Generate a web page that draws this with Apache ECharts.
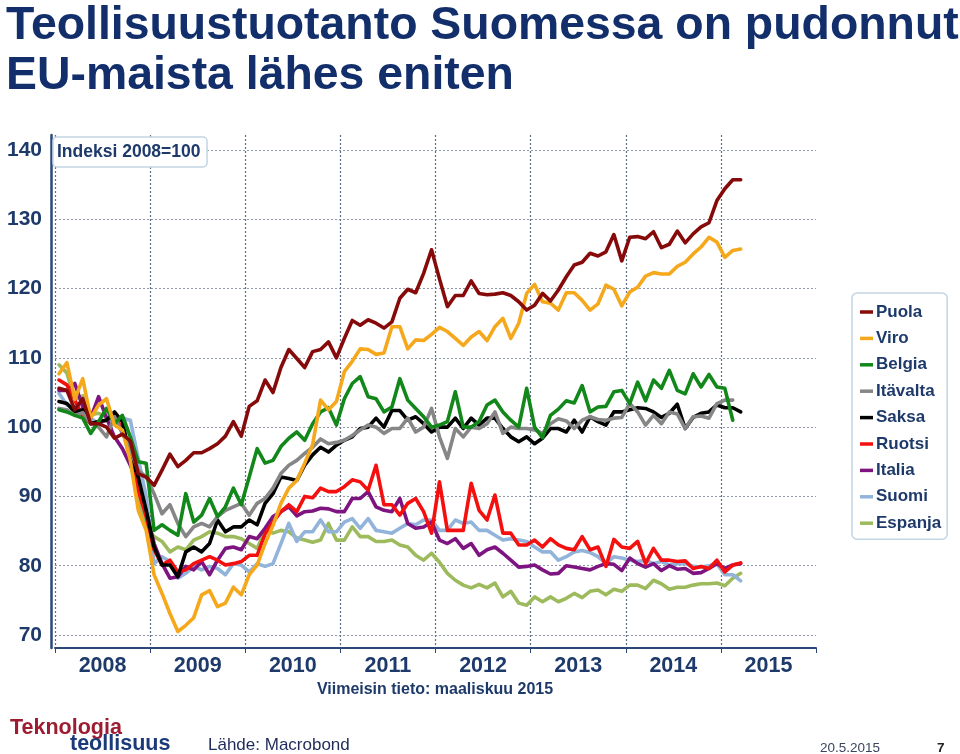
<!DOCTYPE html>
<html>
<head>
<meta charset="utf-8">
<script src="https://cdn.jsdelivr.net/npm/echarts@6/dist/echarts.min.js"></script>
<style>html,body{margin:0;padding:0;background:#fff}#c{width:960px;height:754px}</style>
</head>
<body>
<div id="c"></div>
<script>
// ---- data (monthly index, 2008 = 100), Jan 2008 ... Mar 2015 ----
const years = ['2008', '2009', '2010', '2011', '2012', '2013', '2014', '2015'];
const yTicks = [70, 80, 90, 100, 110, 120, 130, 140];

const puola = [
  105.6, 105.3, 102.5, 104.1, 100.5, 100.5, 100, 98.4, 99, 98, 93.3, 92.8,
  91.6, 93.8, 96.1, 94.3, 95.2, 96.3, 96.3, 96.9, 97.6, 98.7, 100.8, 98.7,
  103, 103.8, 106.8, 105, 108.6, 111.2, 109.9, 108.6, 110.9, 111.2, 112.3, 110,
  112.8, 115.4, 114.7, 115.5, 115, 114.3, 115.2, 118.6, 119.9, 119.4, 122.2, 125.6,
  121.4, 117.4, 119, 119, 121.1, 119.3, 119.1, 119.2, 119.4, 119, 118.1, 116.9,
  117.6, 119.3, 118.2, 119.8, 121.7, 123.4, 123.8, 125.1, 124.7, 125.3, 127.8, 124,
  127.4, 127.5, 127.2, 128.2, 125.9, 126.4, 128.3, 126.6, 127.9, 128.9, 129.5, 132.7,
  134.4, 135.7, 135.7
];
const viro = [
  107.7, 109.3, 104, 107, 101.3, 103.2, 104.1, 100.3, 99.6, 95.2, 88, 85.1,
  78.7, 76, 73.1, 70.5, 71.4, 72.5, 75.8, 76.4, 74.1, 74.6, 76.9, 75.8,
  78.7, 80.1, 83.2, 85.8, 89, 91.2, 92.3, 94.8, 97.5, 103.9, 102.5, 103.7,
  108, 109.5, 111.3, 111.2, 110.5, 110.7, 114.5, 114.5, 111.3, 112.6, 112.5, 113.4,
  114.4, 113.8, 112.8, 111.8, 113, 113.8, 112.5, 114.5, 115.7, 112.8, 115, 119.3,
  120.6, 118.1, 117.9, 116.9, 119.4, 119.4, 118.3, 116.9, 117.8, 120.5, 119.9, 117.5,
  119.5, 120.2, 121.8, 122.3, 122.1, 122.1, 123.2, 123.8, 125, 126, 127.4, 126.7,
  124.5, 125.5, 125.7
];
const belgia = [
  102.5, 102.2, 101.7, 101.3, 99.1, 100.8, 102.7, 100.5, 101.7, 98.6, 95, 94.8,
  85.1, 85.9, 85.1, 84.4, 90.4, 86.3, 87.3, 89.7, 87.1, 88.5, 91.2, 88.8,
  92.8, 96.9, 94.8, 95.2, 97.2, 98.4, 99.3, 98.1, 100.5, 102.2, 102.8, 100.3,
  104.1, 106.3, 107.3, 104.4, 104.1, 102.2, 102.9, 107, 103.9, 102.7, 101.5, 100,
  100.3, 100.8, 105.1, 100, 100, 100.8, 103.2, 103.9, 102.2, 101, 100, 105.6,
  100, 98.5, 101.7, 102.6, 103.8, 103.5, 106, 102.2, 102.9, 103, 105.1, 105.3,
  103.4, 106.5, 103.8, 106.8, 105.6, 108.2, 105.3, 104.8, 107.7, 105.8, 107.6, 105.8,
  105.6, 101, null
];
const itavalta = [
  102.7, 102.5, 101.7, 102.1, 100.5, 100, 98.6, 101.5, 99.1, 96.7, 93.8, 92.8,
  90.4, 87.5, 88.8, 86.1, 84.2, 85.6, 86.1, 85.6, 87.1, 88, 88.5, 89,
  87.3, 89, 89.7, 91.2, 93.3, 94.5, 95.2, 96.2, 97.1, 98.3, 97.6, 97.8,
  98.1, 98.8, 99.6, 100.3, 100, 99.1, 99.8, 99.8, 101.3, 99.3, 100, 102.7,
  98.6, 95.5, 99.8, 98.6, 100, 99.8, 100.5, 102.2, 99.1, 100, 99.8, 99.8,
  99.6, 99.1, 100.5, 101.2, 100.9, 99.8, 101, 101.5, 101.1, 101, 101.3, 101.4,
  103.4, 102.2, 100.3, 101.7, 100.5, 102.2, 101.9, 99.8, 101.5, 101.6, 101.3, 103.4,
  103.9, 103.9, null
];
const saksa = [
  103.7, 103.4, 102.2, 102.5, 100.5, 100.8, 101, 102.2, 100.8, 95.7, 92.8, 88,
  82.7, 80.1, 80.1, 78.4, 82, 82.7, 82, 83.2, 86.6, 84.9, 85.6, 85.6,
  86.6, 85.9, 89, 90.4, 92.8, 92.6, 92.3, 94.5, 96, 97.1, 96.4, 97.4,
  98.1, 98.6, 99.8, 100, 101.3, 100, 102.4, 102.4, 101, 101.5, 100.5, 99.3,
  100, 100, 101.3, 99.8, 101.3, 100.3, 101.3, 101.3, 99.8, 98.6, 97.9, 98.6,
  97.6, 98.4, 99.8, 99.8, 99.3, 101, 99.3, 101.5, 100.8, 100.3, 102.2, 102.2,
  102.5, 102.8, 102.7, 102.2, 101.4, 102, 103.3, 99.8, 101.4, 102, 102.2, 103.2,
  102.8, 102.8, 102.2
];
const ruotsi = [
  106.8, 106.1, 103.9, 101.5, 100.5, 100.8, 101, 101.7, 99.6, 96, 90.9, 87.1,
  82.3, 80.1, 80.8, 79.1, 79.4, 80.3, 80.8, 81.3, 80.8, 80.1, 80.3, 80.6,
  81.5, 81.5, 84.6, 86.3, 87.8, 88.8, 87.8, 90, 89.8, 91.2, 90.7, 90.7,
  91.4, 92.4, 92.1, 90.9, 94.5, 88.8, 88.8, 87.3, 89, 89.7, 87.8, 84.7,
  92.1, 85.1, 85.1, 85.1, 91.9, 88, 86.6, 90.2, 84.7, 84.7, 83, 83,
  83.7, 82.7, 83.9, 83, 82.5, 82.3, 84.2, 82.3, 82.7, 79.9, 83.8, 82.7,
  82.5, 83.5, 80.3, 82.5, 80.8, 80.8, 80.6, 80.7, 79.6, 79.9, 79.6, 80.8,
  79.1, 80.1, 80.4
];
const italia = [
  105.3, 105.3, 106.3, 102.9, 101.3, 104.4, 101.3, 98.6, 96.9, 94.5, 91.9, 87.8,
  83.2, 80.3, 78.2, 78.4, 79.9, 79.4, 80.6, 78.7, 80.8, 82.5, 82.7, 82.3,
  84.2, 83.9, 85.4, 87.1, 87.8, 88.5, 87.2, 87.8, 87.9, 88.3, 88.2, 87.8,
  87.8, 89.7, 89.7, 90.7, 88.5, 88, 87.8, 89.7, 86.1, 85.4, 85.6, 86.3,
  83.7, 83.2, 83.9, 82.5, 83.2, 81.5, 82.3, 82.7, 81.8, 80.8, 79.8, 79.9,
  80.1, 79.4, 78.8, 78.9, 80, 79.8, 79.6, 79.4, 79.9, 80.3, 80.2, 79.3,
  81.1, 80.3, 79.8, 80.3, 79.3, 80, 79.5, 79.6, 78.9, 79, 79.6, 80.3,
  79.6, 80.1, 80.3
];
const suomi = [
  104.9, 103.2, 102.9, 101.5, 101.3, 100.5, 101, 100.8, 101.3, 101, 95.5, 90,
  80.3, 81.3, 80.6, 78.2, 78.9, 79.9, 79.4, 79.9, 79.6, 78.7, 80.3, 80.1,
  79.1, 80.3, 79.9, 80.3, 83.2, 86.1, 83.5, 84.9, 84.9, 86.6, 84.9, 84.9,
  86.3, 86.8, 85.4, 86.8, 85.1, 84.9, 84.7, 85.4, 86.1, 85.9, 86.6, 86.6,
  85.1, 85.1, 86.6, 86.1, 86.3, 85.1, 85.1, 84.4, 83.7, 83.9, 83.7, 83.5,
  82.7, 82, 82, 80.8, 81.3, 82, 82.2, 81.9, 81.3, 80.3, 81.3, 81.1,
  80.8, 80.6, 80.8, 80.3, 80.6, 80.1, 80.3, 80.3, 79.9, 79.8, 80, 80.3,
  78.7, 78.7, 77.8
];
const espanja = [
  109, 107.8, 104, 104.5, 101.8, 102, 101.5, 100.5, 100, 95, 89.5, 85.5,
  84.2, 83.5, 82, 82.7, 82.3, 83.7, 84.2, 84.9, 84.7, 84.2, 84.2, 83.9,
  83.2, 82.5, 85.1, 84.7, 85.1, 84.9, 84, 83.7, 83.4, 83.7, 86.1, 83.7,
  83.7, 85.6, 84.2, 84.2, 83.5, 83.5, 83.7, 83, 82.7, 81.5, 80.8, 81.8,
  80.5, 78.9, 77.9, 77.2, 76.8, 77.3, 76.8, 77.5, 75.5, 76.3, 74.6, 74.3,
  75.5, 74.8, 75.5, 74.8, 75.3, 76, 75.4, 76.3, 76.5, 75.8, 76.6, 76.3,
  77.2, 77.2, 76.7, 77.9, 77.4, 76.6, 76.9, 76.9, 77.2, 77.4, 77.4, 77.5,
  77.1, 78.2, 78.9
];

const seriesNames = ['Puola', 'Viro', 'Belgia', 'Itävalta', 'Saksa', 'Ruotsi', 'Italia', 'Suomi', 'Espanja'];
const seriesData = [puola, viro, belgia, itavalta, saksa, ruotsi, italia, suomi, espanja];
const seriesColors = ['#870A0A', '#F5A81C', '#12871A', '#868686', '#000000', '#F51010', '#7D1480', '#92B4DA', '#9DBB5C'];

// month categories Jan 2008 ... Dec 2015
const months = [];
years.forEach(function (y) { for (let m = 1; m <= 12; m++) months.push(y + '-' + (m < 10 ? '0' : '') + m); });

const NAVY = '#1E3A6A';
const FONT = '"Liberation Sans", Arial, Helvetica, sans-serif';

const series = [];
for (let k = seriesNames.length - 1; k >= 0; k--) {
  series.push({
    name: seriesNames[k], type: 'line', xAxisIndex: 0, yAxisIndex: 0,
    data: seriesData[k], showSymbol: false, symbol: 'none', connectNulls: false,
    lineStyle: { width: 3.6, color: seriesColors[k], join: 'round', cap: 'round' },
    itemStyle: { color: seriesColors[k] }
  });
}

const chart = echarts.init(document.getElementById('c'), null, { renderer: 'canvas' });
chart.setOption({
  animation: false,
  backgroundColor: '#ffffff',
  textStyle: { fontFamily: FONT },
  title: {
    text: 'Teollisuustuotanto Suomessa on pudonnut\nEU-maista lähes eniten',
    left: 1, top: -4,
    textStyle: { fontFamily: FONT, fontSize: 46.4, fontWeight: 'bold', color: '#132F6B', lineHeight: 50 }
  },
  legend: {
    data: seriesNames, orient: 'vertical', left: 852, top: 293,
    icon: 'rect', itemWidth: 13, itemHeight: 3.5, itemGap: 6.4,
    padding: [9, 6, 6, 8],
    backgroundColor: '#ffffff', borderColor: '#C3D5E2', borderWidth: 1.5, borderRadius: 5,
    textStyle: { fontFamily: FONT, fontSize: 17, fontWeight: 'bold', color: NAVY, lineHeight: 20, padding: [0, 0, 0, -2] }
  },
  grid: [
    { left: 55, right: 144, top: 150, bottom: 119 },
    { left: 55, right: 144, top: 135, bottom: 106 }
  ],
  xAxis: [
    { type: 'category', gridIndex: 0, data: months, boundaryGap: true, show: false },
    {
      type: 'category', gridIndex: 1, data: years, boundaryGap: true,
      axisLine: { show: true, onZero: false, lineStyle: { color: '#2B4878', width: 2 } },
      axisTick: { show: true, length: 5, lineStyle: { color: '#2B4878', width: 1 } },
      axisLabel: { color: NAVY, fontSize: 21.5, fontWeight: 'bold', margin: 7, fontFamily: FONT },
      splitLine: { show: true, showMinLine: true, showMaxLine: false, lineStyle: { type: [2, 2], color: '#5E6E86', width: 1.2 } }
    }
  ],
  yAxis: [
    {
      type: 'value', gridIndex: 0, min: yTicks[0], max: yTicks[yTicks.length - 1], interval: 10,
      axisLine: { show: false }, axisTick: { show: false },
      axisLabel: { color: NAVY, fontSize: 21, fontWeight: 'bold', margin: 13, fontFamily: FONT },
      splitLine: { show: true, lineStyle: { type: [2, 2], color: '#8E98A8', width: 1 } }
    },
    {
      type: 'value', gridIndex: 1, min: 0, max: 1, offset: 4,
      axisLine: { show: true, lineStyle: { color: '#2B4878', width: 2.5 } },
      axisTick: { show: false }, axisLabel: { show: false }, splitLine: { show: false }
    }
  ],
  series: series,
  graphic: [
    { type: 'rect', z: 100, shape: { x: 53, y: 137, width: 154, height: 30, r: 4 },
      style: { fill: '#ffffff', stroke: '#C3D5E2', lineWidth: 1.5 } },
    { type: 'text', z: 101, style: { text: 'Indeksi 2008=100', x: 57, y: 152.5, align: 'left', verticalAlign: 'middle',
      font: 'bold 17.5px ' + FONT, fill: NAVY } },
    { type: 'text', z: 101, style: { text: 'Viimeisin tieto: maaliskuu 2015', x: 435, y: 690, align: 'center', verticalAlign: 'middle',
      font: 'bold 16px ' + FONT, fill: NAVY } },
    { type: 'text', z: 101, style: { text: 'Teknologia', x: 10, y: 728, align: 'left', verticalAlign: 'middle',
      font: 'bold 21.5px ' + FONT, fill: '#9E1C31' } },
    { type: 'text', z: 101, style: { text: 'teollisuus', x: 70, y: 744, align: 'left', verticalAlign: 'middle',
      font: 'bold 21.5px ' + FONT, fill: '#1B3A7A' } },
    { type: 'text', z: 101, style: { text: 'Lähde: Macrobond', x: 208, y: 745, align: 'left', verticalAlign: 'middle',
      font: '17px ' + FONT, fill: '#1F2A5A' } },
    { type: 'text', z: 101, style: { text: '20.5.2015', x: 820, y: 748, align: 'left', verticalAlign: 'middle',
      font: '13.5px ' + FONT, fill: '#3A4660' } },
    { type: 'text', z: 101, style: { text: '7', x: 937, y: 748, align: 'left', verticalAlign: 'middle',
      font: 'bold 13.5px ' + FONT, fill: '#222222' } }
  ]
});
</script>
</body>
</html>
